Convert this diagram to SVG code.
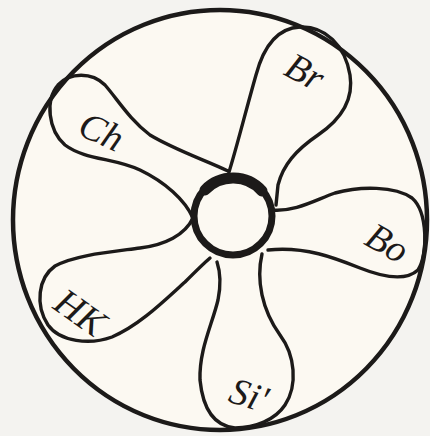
<svg xmlns="http://www.w3.org/2000/svg" width="430" height="436" viewBox="0 0 430 436">
  <style>
    .ln { fill: none; stroke: #1c1a19; stroke-width: 3.4; stroke-linecap: round; stroke-linejoin: round; }
    .lbl { font-family: "Liberation Serif", "DejaVu Serif", serif; font-style: italic; font-size: 38px; fill: #1c1a19; text-anchor: middle; }
  </style>
  <rect x="0" y="0" width="430" height="436" fill="#f4f3f0"/>
  <g id="outer">
    <ellipse cx="220" cy="220" rx="207" ry="210" fill="#fcf9f2" stroke="#1c1a19" stroke-width="4.5"/>
  </g>
  <g id="petals">
    <g id="Br">
      <path class="ln" d="M229,172 C236,150 246,110 256,75 C264,45 278,28 300,27 C325,26 345,45 350,75 C354,100 340,120 318,135 C296,150 283,165 278,185 L276,205"/>
      <text class="lbl" transform="translate(299,83) rotate(28)">Br</text>
    </g>
    <g id="Bo">
      <path class="ln" d="M272,210 C295,212 315,200 335,193 C360,186 395,186 412,198 C428,212 428,255 418,270 C405,282 380,276 360,268 C335,258 305,246 268,250"/>
      <text class="lbl" transform="translate(381,254) rotate(30)">Bo</text>
    </g>
    <g id="Si">
      <path class="ln" d="M262,254 C256,280 262,310 280,335 C295,355 298,385 285,405 C275,420 255,428 235,428 C215,426 203,410 200,380 C199,350 212,325 218,300 C222,280 219,268 217,262"/>
      <text class="lbl" transform="translate(245,407) rotate(18)">Si'</text>
    </g>
    <g id="Ch">
      <path class="ln" d="M228,171 C205,160 175,150 150,135 C130,120 118,100 105,85 C92,72 70,72 58,85 C45,100 48,130 65,145 C85,160 115,158 140,170 C165,182 185,200 193,218"/>
      <text class="lbl" transform="translate(96,143) rotate(25)">Ch</text>
    </g>
    <g id="HK">
      <path class="ln" d="M193,218 C185,235 165,245 140,248 C110,252 75,255 55,266 C38,278 35,305 48,325 C60,342 90,345 112,337 C140,325 165,300 185,282 C195,272 203,264 210,258"/>
      <text class="lbl" transform="translate(73,323) rotate(35)">HK</text>
    </g>
  </g>
  <g id="center">
    <circle cx="233" cy="216" r="39" fill="#fcf9f2" stroke="#1c1a19" stroke-width="7"/>
    <path d="M205,190 A39,39 0 0 1 262,191" fill="none" stroke="#1c1a19" stroke-width="11" stroke-linecap="round"/>
  </g>
</svg>
